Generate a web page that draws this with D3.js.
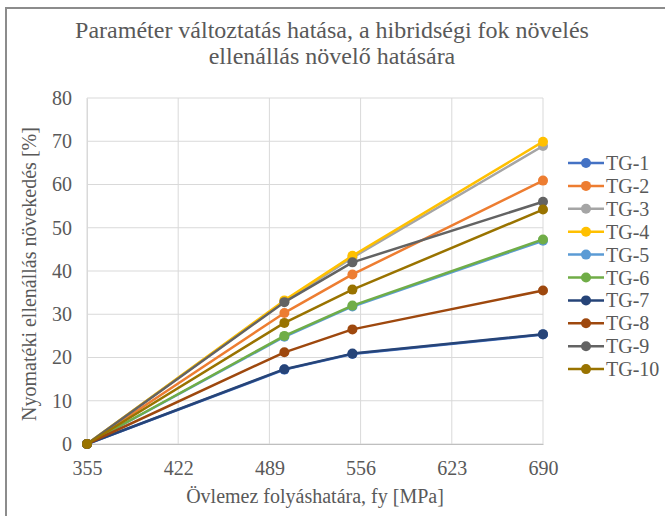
<!DOCTYPE html>
<html>
<head>
<meta charset="utf-8">
<script src="https://cdn.jsdelivr.net/npm/d3@7"></script>
<style>
  html, body { margin: 0; padding: 0; background: #fff; }
  svg { display: block; }
</style>
</head>
<body>
<svg id="chart" width="665" height="516"></svg>
<script>
// Yield strength of the flange [MPa]
const yieldStrength = [355, 500, 550, 690];
const xTicks = [355, 422, 489, 556, 623, 690];
const yTicks = [0, 10, 20, 30, 40, 50, 60, 70, 80];

const seriesNames = ["TG-1", "TG-2", "TG-3", "TG-4", "TG-5", "TG-6", "TG-7", "TG-8", "TG-9", "TG-10"];
const seriesColors = ["#4472C4", "#ED7D31", "#A5A5A5", "#FFC000", "#5B9BD5",
                      "#70AD47", "#264478", "#9E480E", "#636363", "#997300"];

// Moment resistance increase [%]
const tg1  = [0, 17.2, 20.8, 25.3];
const tg2  = [0, 30.3, 39.2, 60.9];
const tg3  = [0, 33.0, 43.1, 68.9];
const tg4  = [0, 33.2, 43.5, 69.9];
const tg5  = [0, 24.8, 31.8, 47.0];
const tg6  = [0, 25.0, 32.0, 47.3];
const tg7  = [0, 17.3, 20.9, 25.4];
const tg8  = [0, 21.2, 26.5, 35.5];
const tg9  = [0, 32.8, 42.0, 56.0];
const tg10 = [0, 28.0, 35.7, 54.2];
const seriesValues = [tg1, tg2, tg3, tg4, tg5, tg6, tg7, tg8, tg9, tg10];

const FONT = "'Liberation Serif', 'DejaVu Serif', serif";
const INK = "#595959";

const svg = d3.select("#chart")
  .attr("font-family", FONT);

// outer frame
svg.append("path")
  .attr("d", "M6,516 L6,8 L665,8")
  .attr("fill", "none").attr("stroke", "#8c8c8c").attr("stroke-width", 2);

const plot = { left: 87, right: 543, top: 98, bottom: 444 };

const x = d3.scaleLinear().domain([355, 690]).range([plot.left, plot.right]);
const y = d3.scaleLinear().domain([0, 80]).range([plot.bottom, plot.top]);

// title
const title = svg.append("text")
  .attr("text-anchor", "middle")
  .attr("font-family", FONT)
  .attr("font-size", 24)
  .attr("fill", INK);
title.append("tspan").attr("x", 332).attr("y", 38)
  .text("Paraméter változtatás hatása, a hibridségi fok növelés");
title.append("tspan").attr("x", 332).attr("y", 64)
  .text("ellenállás növelő hatására");

// gridlines
const grid = svg.append("g");
grid.selectAll("line.h").data(yTicks).join("line")
  .attr("x1", plot.left).attr("x2", plot.right)
  .attr("y1", d => y(d)).attr("y2", d => y(d))
  .attr("stroke", "#d9d9d9").attr("stroke-width", 1);
grid.selectAll("line.v").data(xTicks).join("line")
  .attr("x1", d => x(d)).attr("x2", d => x(d))
  .attr("y1", plot.top).attr("y2", plot.bottom)
  .attr("stroke", "#d9d9d9").attr("stroke-width", 1);

// axes
const xAxis = d3.axisBottom(x).tickValues(xTicks).tickSize(0).tickPadding(17);
const gx = svg.append("g").attr("transform", `translate(0,${plot.bottom})`).call(xAxis)
  .attr("font-family", FONT).attr("font-size", 20);
gx.select(".domain").attr("stroke", "#bfbfbf");
gx.selectAll("text").attr("fill", INK);

const yAxis = d3.axisLeft(y).tickValues(yTicks).tickSize(0).tickPadding(15);
const gy = svg.append("g").attr("transform", `translate(${plot.left},0)`).call(yAxis)
  .attr("font-family", FONT).attr("font-size", 20);
gy.select(".domain").attr("stroke", "#d9d9d9");
gy.selectAll("text").attr("fill", INK);

// axis titles
svg.append("text")
  .attr("x", 315).attr("y", 503)
  .attr("text-anchor", "middle")
  .attr("font-family", FONT).attr("font-size", 20).attr("fill", INK)
  .text("Övlemez folyáshatára, fy [MPa]");

svg.append("text")
  .attr("transform", "translate(36,274) rotate(-90)")
  .attr("text-anchor", "middle")
  .attr("font-family", FONT).attr("font-size", 20).attr("fill", INK)
  .text("Nyomatéki ellenállás növekedés [%]");

// series
const line = d3.line().x((d, i) => x(yieldStrength[i])).y(d => y(d));
const series = svg.append("g").selectAll("g").data(seriesValues).join("g");
series.append("path")
  .attr("d", d => line(d))
  .attr("fill", "none")
  .attr("stroke", (d, i) => seriesColors[i])
  .attr("stroke-width", 2.5)
  .attr("stroke-linejoin", "round");
series.each(function(vals, i) {
  d3.select(this).selectAll("circle").data(vals).join("circle")
    .attr("cx", (d, j) => x(yieldStrength[j]))
    .attr("cy", d => y(d))
    .attr("r", 5)
    .attr("fill", seriesColors[i]);
});

// legend
const legend = svg.append("g");
const rows = legend.selectAll("g").data(seriesNames).join("g")
  .attr("transform", (d, i) => `translate(0,${163 + i * 22.9})`);
rows.append("line")
  .attr("x1", 568).attr("x2", 604).attr("y1", 0).attr("y2", 0)
  .attr("stroke", (d, i) => seriesColors[i]).attr("stroke-width", 2.5);
rows.append("circle")
  .attr("cx", 586).attr("cy", 0).attr("r", 5)
  .attr("fill", (d, i) => seriesColors[i]);
rows.append("text")
  .attr("x", 606).attr("y", 7)
  .attr("font-family", FONT).attr("font-size", 20).attr("fill", INK)
  .text(d => d);
</script>
</body>
</html>
